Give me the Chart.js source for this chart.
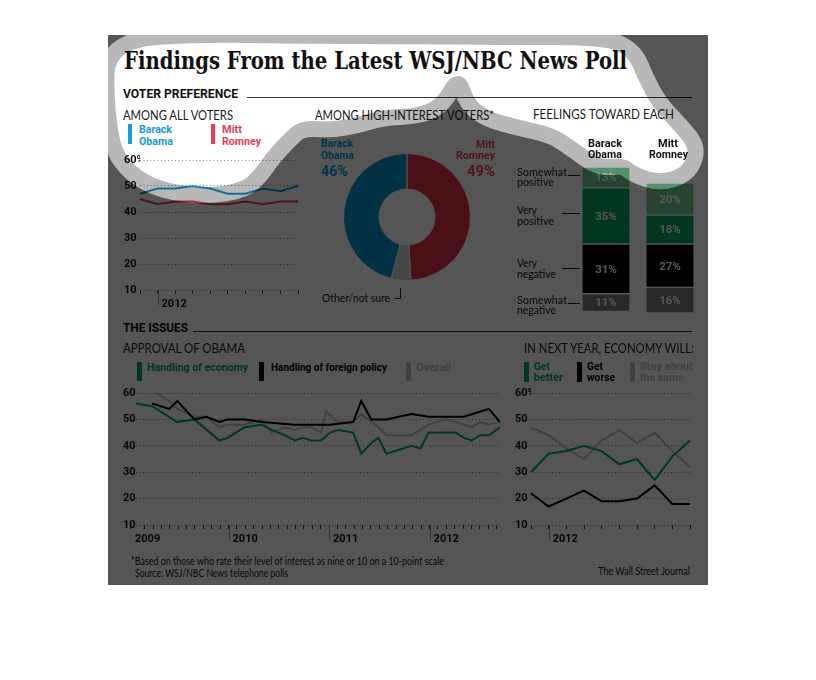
<!DOCTYPE html>
<html>
<head>
<meta charset="utf-8">
<script src="https://cdn.jsdelivr.net/npm/chart.js@4.4.1/dist/chart.umd.min.js"></script>
<style>
body { margin: 0; background: #fff; width: 816px; height: 680px; position: relative; overflow: hidden; font-family: Lato, sans-serif; }
canvas.c { position: absolute; }
.t { position: absolute; white-space: nowrap; line-height: 1; transform-origin: 0 50%; }
.r { position: absolute; }
#shade { position: absolute; left: 0; top: 0; z-index: 10; pointer-events: none; }
</style>
</head>
<body>
<canvas id="pref" class="c" width="180" height="160" style="left:124px;top:150px"></canvas>
<canvas id="share" class="c" width="128" height="128" style="left:343px;top:153px"></canvas>
<canvas id="feel" class="c" width="128" height="146" style="left:574px;top:167px"></canvas>
<canvas id="issues" class="c" width="383" height="162" style="left:123px;top:383px"></canvas>
<canvas id="outlook" class="c" width="181" height="162" style="left:515px;top:383px"></canvas>
<canvas id="shade" width="816" height="680"></canvas>
<script>
// voter preference, all voters (monthly polls)
var pollMonths = ["Dec 2011", "Jan 2012", "Feb 2012", "Mar 2012", "Apr 2012",
    "May 2012", "Jun 2012", "Jul 2012", "Aug 2012", "Sep 2012"];
var obamaAll = [47, 49, 49, 50, 49, 47, 47, 49, 48, 50];
var romneyAll = [45, 43, 44, 44, 43, 43, 44, 43, 44, 44];

// high-interest voters
var shareLabels = ["Mitt Romney", "Other/not sure", "Barack Obama"];
var shareValues = [49, 5, 46];

// feelings toward each
var feelNames = ["Barack Obama", "Mitt Romney"];
var veryPositive = [35, 18];
var somewhatPositive = [13, 20];
var veryNegative = [31, 27];
var somewhatNegative = [11, 16];

// approval of Obama (poll dates as fractional years)
var econYears = [2009.08, 2009.24, 2009.49, 2009.66, 2009.91, 2009.99, 2010.16, 2010.33, 2010.43, 2010.56,
    2010.66, 2010.74, 2010.82, 2010.92, 2011.01, 2011.09, 2011.24, 2011.32, 2011.42, 2011.49,
    2011.57, 2011.82, 2011.91, 2011.99, 2012.26, 2012.34, 2012.42, 2012.50, 2012.59, 2012.70];
var econApproval = [56, 55, 49, 50, 42, 43, 47, 48, 46, 44,
    42, 43, 42, 42, 45, 46, 45, 37, 41, 43,
    37, 40, 39, 45, 45, 43, 42, 44, 44, 47];
var foreignYears = [2009.24, 2009.41, 2009.49, 2009.66, 2009.78, 2009.91, 2009.99, 2010.16, 2010.33, 2010.66,
    2010.82, 2011.01, 2011.24, 2011.32, 2011.42, 2011.57, 2011.82, 2011.99, 2012.34, 2012.59, 2012.70];
var foreignApproval = [56, 54, 57, 50, 51, 49, 50, 50, 49, 48,
    48, 48, 49, 57, 50, 50, 52, 51, 51, 54, 49];
var overallYears = [2009.08, 2009.24, 2009.41, 2009.49, 2009.66, 2009.78, 2009.91, 2009.99, 2010.16, 2010.33,
    2010.43, 2010.56, 2010.66, 2010.74, 2010.82, 2010.92, 2010.97, 2011.09, 2011.24, 2011.32,
    2011.42, 2011.49, 2011.57, 2011.82, 2011.99, 2012.16, 2012.26, 2012.34, 2012.42, 2012.50,
    2012.59, 2012.70];
var overallApproval = [60, 61, 57, 54, 51, 51, 47, 48, 48, 50,
    45, 47, 46, 47, 47, 45, 53, 49, 49, 52,
    49, 47, 44, 44, 48, 50, 49, 48, 47, 49,
    48, 49];

// in next year, economy will
var getBetter = [30, 37, 38, 40, 38, 33, 35, 27, 36, 42];
var getWorse = [22, 17, 20, 23, 19, 19, 20, 25, 18, 18];
var staySame = [47, 44, 39, 35, 42, 46, 41, 45, 38, 32];

var OBAMA = "#1a9ad6", ROMNEY = "#ea3c55", GREEN = "#00a862", GRAY = "#c4c4c4";
var BOLD = "Roboto, 'DejaVu Sans', sans-serif";

Chart.defaults.font.family = BOLD;
Chart.defaults.animation = false;
Chart.defaults.responsive = false;
Chart.defaults.plugins.legend.display = false;
Chart.defaults.plugins.tooltip.enabled = false;
Chart.defaults.elements.point.radius = 0;
Chart.defaults.elements.line.borderWidth = 2;

function pts(xs, ys) {
    return xs.map(function (x, i) { return { x: x, y: ys[i] }; });
}

// long year ticks under the x axis
var majorTicks = {
    id: "majorTicks",
    afterDraw: function (chart, args, opts) {
        if (!opts.values) return;
        var sc = chart.scales.x, ctx = chart.ctx, b = chart.chartArea.bottom;
        ctx.save();
        ctx.strokeStyle = "#999";
        ctx.lineWidth = 1;
        opts.values.forEach(function (v) {
            var px = Math.round(sc.getPixelForValue(v)) + 0.5;
            ctx.beginPath();
            ctx.moveTo(px, b);
            ctx.lineTo(px, b + 15);
            ctx.stroke();
        });
        ctx.restore();
    }
};

function yAxis(w) {
    return {
        min: 10, max: 60,
        afterFit: function (s) { s.width = w; },
        ticks: {
            stepSize: 10, crossAlign: "far", color: "#111",
            font: { weight: "bold", size: 11 },
            callback: function (v) { return v === 60 ? "60%" : v; }
        },
        grid: { color: "#8a8a8a", drawTicks: false },
        border: { display: false, dash: [1, 2.5] }
    };
}

function xTicks(cb) {
    return {
        autoSkip: false, maxRotation: 0, align: "start", labelOffset: 4, padding: 4,
        color: "#111", font: { weight: "bold", size: 11 }, callback: cb
    };
}

var xGrid = { drawOnChartArea: false, tickLength: 4, color: "#444" };

function monthAxis() {
    return {
        afterFit: function (s) { s.height = 20; },
        grid: xGrid,
        border: { display: false },
        ticks: xTicks(function (v) {
            var l = this.getLabelForValue(v);
            return l.indexOf("Jan") === 0 ? l.slice(4) : "";
        })
    };
}

new Chart(document.getElementById("pref"), {
    type: "line",
    data: {
        labels: pollMonths,
        datasets: [
            { label: "Barack Obama", data: obamaAll, borderColor: OBAMA },
            { label: "Mitt Romney", data: romneyAll, borderColor: ROMNEY }
        ]
    },
    options: {
        layout: { padding: { top: 10, right: 6, left: 0, bottom: 0 } },
        scales: { x: monthAxis(), y: yAxis(16) },
        plugins: { majorTicks: { values: [1] } }
    },
    plugins: [majorTicks]
});

new Chart(document.getElementById("share"), {
    type: "doughnut",
    data: {
        labels: shareLabels,
        datasets: [{
            data: shareValues,
            backgroundColor: ["#dc3347", "#cfcfcf", "#0a92cc"],
            borderColor: "#fff",
            borderWidth: 1
        }]
    },
    options: { cutout: "44%", layout: { padding: 0 } }
});

var barLabels = {
    id: "barLabels",
    afterDatasetsDraw: function (chart) {
        var ctx = chart.ctx;
        ctx.save();
        ctx.fillStyle = "#fff";
        ctx.font = "bold 11.5px " + BOLD;
        ctx.textAlign = "center";
        ctx.textBaseline = "middle";
        chart.data.datasets.forEach(function (ds, i) {
            chart.getDatasetMeta(i).data.forEach(function (bar, j) {
                var p = bar.getCenterPoint();
                ctx.fillText(Math.abs(ds.data[j]) + "%", p.x, p.y + 1);
            });
        });
        ctx.restore();
    }
};

function neg(a) { return a.map(function (v) { return -v; }); }

new Chart(document.getElementById("feel"), {
    type: "bar",
    data: {
        labels: feelNames,
        datasets: [
            { label: "Very positive", data: veryPositive, backgroundColor: "#0aa35e" },
            { label: "Somewhat positive", data: somewhatPositive, backgroundColor: "#72c995" },
            { label: "Very negative", data: neg(veryNegative), backgroundColor: "#000" },
            { label: "Somewhat negative", data: neg(somewhatNegative), backgroundColor: "#7a7a7a" }
        ]
    },
    options: {
        layout: { padding: 0 },
        datasets: {
            bar: {
                barThickness: 47, borderColor: "#fff", borderSkipped: false,
                borderWidth: { top: 1, bottom: 1, left: 0, right: 0 }
            }
        },
        scales: {
            x: { display: false, stacked: true },
            y: { display: false, stacked: true, min: -43, max: 48 }
        }
    },
    plugins: [barLabels]
});

// monthly ticks for the approval chart; the first one carries "2009"
var issueMin = 2009.08, issueMax = 2012.70;
var issueStart = 2009.03;
var issueTicks = [issueStart];
for (var k = 2; 2009 + k / 12 <= issueMax; k++) issueTicks.push(2009 + k / 12);

new Chart(document.getElementById("issues"), {
    type: "line",
    data: {
        datasets: [
            { label: "Handling of foreign policy", data: pts(foreignYears, foreignApproval), borderColor: "#000" },
            { label: "Handling of economy", data: pts(econYears, econApproval), borderColor: GREEN },
            { label: "Overall", data: pts(overallYears, overallApproval), borderColor: GRAY }
        ]
    },
    options: {
        layout: { padding: { top: 10, right: 6, left: 0, bottom: 0 } },
        scales: {
            x: {
                type: "linear", min: issueMin, max: issueMax,
                afterBuildTicks: function (s) {
                    s.ticks = issueTicks.map(function (v) { return { value: v }; });
                },
                afterFit: function (s) { s.height = 20; },
                grid: xGrid,
                border: { display: false },
                ticks: xTicks(function (v) {
                    if (v === issueStart) return "2009";
                    var m = Math.round((v - 2009) * 12);
                    return m % 12 === 0 ? String(2009 + m / 12) : "";
                })
            },
            y: yAxis(13)
        },
        plugins: { majorTicks: { values: [2010, 2011, 2012] } }
    },
    plugins: [majorTicks]
});

new Chart(document.getElementById("outlook"), {
    type: "line",
    data: {
        labels: pollMonths,
        datasets: [
            { label: "Get worse", data: getWorse, borderColor: "#000" },
            { label: "Get better", data: getBetter, borderColor: GREEN },
            { label: "Stay about the same", data: staySame, borderColor: GRAY }
        ]
    },
    options: {
        layout: { padding: { top: 10, right: 6, left: 0, bottom: 0 } },
        scales: { x: monthAxis(), y: yAxis(16) },
        plugins: { majorTicks: { values: [1] } }
    },
    plugins: [majorTicks]
});

// ---- text and rules ----
function txt(s, x, y, o) {
    o = o || {};
    var d = document.createElement("div");
    d.className = "t";
    d.textContent = s;
    var fam = o.family || (o.bold ? BOLD : "Lato, sans-serif");
    d.style.font = (o.bold ? 700 : 400) + " " + (o.size || 12) + "px " + fam;
    d.style.color = o.color || "#1a1a1a";
    document.body.appendChild(d);
    var r = d.getBoundingClientRect();
    var k = o.w ? o.w / r.width : 1;
    var left = x;
    if (o.align === "right") left = x - r.width * k;
    else if (o.align === "center") left = x - r.width * k / 2;
    d.style.left = left + "px";
    d.style.top = (y - r.height / 2) + "px";
    d.style.transform = "scaleX(" + k + ")";
}
function rect(x, y, w, h, c) {
    var d = document.createElement("div");
    d.className = "r";
    d.style.cssText = "left:" + x + "px;top:" + y + "px;width:" + w + "px;height:" + h + "px;background:" + c;
    document.body.appendChild(d);
}

txt("Findings From the Latest WSJ/NBC News Poll", 124, 60.5,
    { size: 25, bold: true, family: "'DejaVu Serif Condensed', 'DejaVu Serif', serif", w: 503, color: "#111" });

txt("VOTER PREFERENCE", 123, 93, { size: 12.5, bold: true, w: 115, color: "#111" });
rect(247, 96.5, 445, 1, "#333");
txt("AMONG ALL VOTERS", 123, 114.5, { size: 13, w: 110 });
rect(128, 124, 4, 20, OBAMA);
txt("Barack", 139, 128.5, { size: 11.5, bold: true, w: 33, color: OBAMA });
txt("Obama", 139, 140.5, { size: 11.5, bold: true, w: 34, color: OBAMA });
rect(211, 124, 4, 20, ROMNEY);
txt("Mitt", 222, 128.5, { size: 11.5, bold: true, w: 20, color: ROMNEY });
txt("Romney", 222, 140.5, { size: 11.5, bold: true, w: 39, color: ROMNEY });

txt("AMONG HIGH-INTEREST VOTERS*", 315, 114.5, { size: 13, w: 179 });
txt("Barack", 321, 143, { size: 11.5, bold: true, w: 32, color: "#0a9ad8" });
txt("Obama", 321, 154.5, { size: 11.5, bold: true, w: 33, color: "#0a9ad8" });
txt("46%", 321, 170.5, { size: 15, bold: true, w: 27, color: "#0a9ad8" });
txt("Mitt", 495, 144, { size: 11.5, bold: true, w: 19, color: "#f03c58", align: "right" });
txt("Romney", 495, 155, { size: 11.5, bold: true, w: 39, color: "#f03c58", align: "right" });
txt("49%", 495, 170.5, { size: 15, bold: true, w: 28, color: "#f03c58", align: "right" });
txt("Other/not sure", 322, 297.5, { size: 11.5, w: 68 });
rect(400, 288, 1, 10, "#333");
rect(395, 297.5, 6, 1, "#333");

txt("FEELINGS TOWARD EACH", 533, 114, { size: 13, w: 141 });
txt("Barack", 605, 142.5, { size: 11.5, bold: true, w: 34, align: "center", color: "#111" });
txt("Obama", 605, 154, { size: 11.5, bold: true, w: 34, align: "center", color: "#111" });
txt("Mitt", 668, 142.5, { size: 11.5, bold: true, w: 20, align: "center", color: "#111" });
txt("Romney", 668, 154, { size: 11.5, bold: true, w: 39, align: "center", color: "#111" });
txt("Somewhat", 517, 171.5, { size: 11.5, w: 50 });
txt("positive", 517, 181.5, { size: 11.5, w: 37 });
rect(568, 175, 12, 1, "#222");
txt("Very", 517, 209, { size: 11.5, w: 20 });
txt("positive", 517, 220.5, { size: 11.5, w: 37 });
rect(562, 213, 18, 1, "#222");
txt("Very", 517, 262.5, { size: 11.5, w: 20 });
txt("negative", 517, 273, { size: 11.5, w: 39 });
rect(562, 268, 18, 1, "#222");
txt("Somewhat", 517, 299, { size: 11.5, w: 50 });
txt("negative", 517, 309.5, { size: 11.5, w: 39 });
rect(568, 303, 12, 1, "#222");

txt("THE ISSUES", 123, 327.5, { size: 12.5, bold: true, w: 65, color: "#111" });
rect(193, 331, 499, 1, "#333");
txt("APPROVAL OF OBAMA", 123, 347.5, { size: 13, w: 122 });
rect(137, 362, 5, 19, GREEN);
txt("Handling of economy", 147, 366.5, { size: 11.5, bold: true, w: 101, color: GREEN });
rect(259, 362, 5, 19, "#000");
txt("Handling of foreign policy", 271, 366.5, { size: 11.5, bold: true, w: 116, color: "#000" });
rect(406, 362, 5, 19, GRAY);
txt("Overall", 416, 366.5, { size: 11.5, bold: true, w: 35, color: GRAY });

txt("IN NEXT YEAR, ECONOMY WILL:", 524, 347.5, { size: 13, w: 170 });
rect(524, 362, 5, 20, GREEN);
txt("Get", 534, 365.5, { size: 11.5, bold: true, w: 16, color: GREEN });
txt("better", 534, 376.5, { size: 11.5, bold: true, w: 29, color: GREEN });
rect(577, 362, 5, 20, "#000");
txt("Get", 587, 365.5, { size: 11.5, bold: true, w: 16, color: "#000" });
txt("worse", 587, 376.5, { size: 11.5, bold: true, w: 28, color: "#000" });
rect(630, 362, 5, 20, GRAY);
txt("Stay about", 640, 365.5, { size: 11.5, bold: true, w: 53, color: GRAY });
txt("the same", 640, 376.5, { size: 11.5, bold: true, w: 44, color: GRAY });

txt("*Based on those who rate their level of interest as nine or 10 on a 10-point scale", 131, 560.5,
    { size: 11, w: 313 });
txt("Source: WSJ/NBC News telephone polls", 135, 572.5, { size: 11, w: 153 });
txt("The Wall Street Journal", 598, 570, { size: 11, w: 92 });

// ---- dimmed panel with the highlighted area ----
var blob = [[115, 48], [200, 42], [300, 44], [400, 44], [500, 45], [600, 45], [628, 55], [638, 80],
    [653, 108], [677, 133], [690, 150], [682, 168], [660, 175], [638, 168], [625, 158], [600, 160],
    [580, 145], [555, 128], [520, 120], [490, 112], [474, 100], [466, 76], [450, 76], [438, 98], [420, 108],
    [380, 110], [355, 118], [330, 122], [300, 120], [283, 135], [265, 155], [255, 170], [241, 183],
    [208, 188], [175, 185], [148, 176], [131, 162], [120, 145], [114, 100]];

function blobPath(g) {
    var n = blob.length;
    function mid(a, b) { return [(a[0] + b[0]) / 2, (a[1] + b[1]) / 2]; }
    g.beginPath();
    var m = mid(blob[n - 1], blob[0]);
    g.moveTo(m[0], m[1]);
    for (var i = 0; i < n; i++) {
        var q = mid(blob[i], blob[(i + 1) % n]);
        g.quadraticCurveTo(blob[i][0], blob[i][1], q[0], q[1]);
    }
    g.closePath();
}

(function () {
    var g = document.getElementById("shade").getContext("2d");
    g.fillStyle = "rgba(0,0,0,0.667)";
    g.fillRect(108, 35, 600, 550);
    var off = document.createElement("canvas");
    off.width = 816; off.height = 680;
    var o = off.getContext("2d");
    blobPath(o);
    o.fillStyle = "#000"; o.fill();
    o.lineWidth = 32; o.lineJoin = "round"; o.strokeStyle = "#000"; o.stroke();
    g.globalCompositeOperation = "destination-out";
    g.globalAlpha = 0.58;
    g.drawImage(off, 0, 0);
    g.globalAlpha = 1;
    blobPath(g);
    g.fillStyle = "#000";
    g.fill();
})();
</script>
</body>
</html>
